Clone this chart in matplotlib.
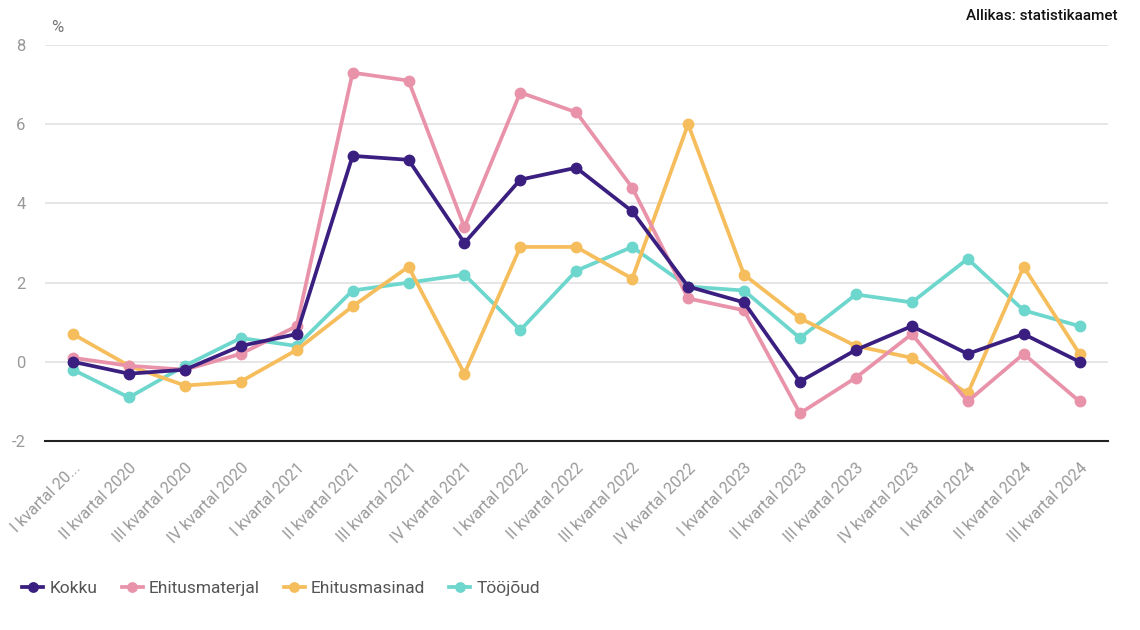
import matplotlib.pyplot as plt
import numpy as np

plt.rcParams['font.family'] = ['Roboto', 'DejaVu Sans']
plt.rcParams['axes.unicode_minus'] = False

# kvartalid
labels = ['I kvartal 20...', 'II kvartal 2020', 'III kvartal 2020', 'IV kvartal 2020',
          'I kvartal 2021', 'II kvartal 2021', 'III kvartal 2021', 'IV kvartal 2021',
          'I kvartal 2022', 'II kvartal 2022', 'III kvartal 2022', 'IV kvartal 2022',
          'I kvartal 2023', 'II kvartal 2023', 'III kvartal 2023', 'IV kvartal 2023',
          'I kvartal 2024', 'II kvartal 2024', 'III kvartal 2024']

kokku = [0.0, -0.3, -0.2, 0.4, 0.7, 5.2, 5.1, 3.0, 4.6, 4.9, 3.8, 1.9, 1.5, -0.5, 0.3, 0.9, 0.2, 0.7, 0.0]
materjal = [0.1, -0.1, -0.2, 0.2, 0.9, 7.3, 7.1, 3.4, 6.8, 6.3, 4.4, 1.6, 1.3, -1.3, -0.4, 0.7, -1.0, 0.2, -1.0]
masinad = [0.7, -0.1, -0.6, -0.5, 0.3, 1.4, 2.4, -0.3, 2.9, 2.9, 2.1, 6.0, 2.2, 1.1, 0.4, 0.1, -0.8, 2.4, 0.2]
toojoud = [-0.2, -0.9, -0.1, 0.6, 0.4, 1.8, 2.0, 2.2, 0.8, 2.3, 2.9, 1.9, 1.8, 0.6, 1.7, 1.5, 2.6, 1.3, 0.9]

series = [('Kokku', kokku, '#3a1f80'),
          ('Ehitusmaterjal', materjal, '#e993ab'),
          ('Ehitusmasinad', masinad, '#f6bd5c'),
          ('Tööjõud', toojoud, '#6dd6cd')]

fig = plt.figure(figsize=(11.4, 6.3), dpi=100)
ax = fig.add_axes([0.0395, 0.30, 0.932, 0.6286])

x = np.arange(len(labels))
# draw in reverse so Kokku sits on top
for name, vals, col in series[::-1]:
    ax.plot(x, vals, color=col, lw=2.7, marker='o', ms=7.5, label=name, zorder=3)

ax.set_xlim(-0.5, len(labels) - 0.5)
ax.set_ylim(-2, 8)
ax.set_yticks([-2, 0, 2, 4, 6, 8])
ax.grid(axis='y', color='#e2e2e2', lw=1.2)
ax.set_axisbelow(True)
for s in ['top', 'right', 'left']:
    ax.spines[s].set_visible(False)
ax.spines['bottom'].set_color('#222222')
ax.spines['bottom'].set_linewidth(1.5)
ax.tick_params(axis='both', length=0, colors='#999999', labelsize=12)
ax.tick_params(axis='y', pad=14)
ax.set_xticks(x)
ax.set_xticklabels(labels, rotation=45, ha='right', rotation_mode='anchor', fontsize=11.5)
ax.tick_params(axis='x', pad=14)

fig.text(57 / 1140, 1 - 27 / 630, '%', color='#777777', fontsize=12, ha='center', va='center')
fig.text(1118 / 1140, 1 - 16 / 630, 'Allikas: statistikaamet', color='#111111',
         fontsize=11, fontweight='medium', ha='right', va='center')

handles, names = ax.get_legend_handles_labels()
fig.legend(handles[::-1], names[::-1], loc='center left', bbox_to_anchor=(0.006, 1 - 588 / 630),
           ncol=4, frameon=False, fontsize=12.5, labelcolor='#555555', handlelength=1.2,
           handletextpad=0.35, columnspacing=1.4, markerscale=0.9)

fig.savefig('out.png', dpi=100)
